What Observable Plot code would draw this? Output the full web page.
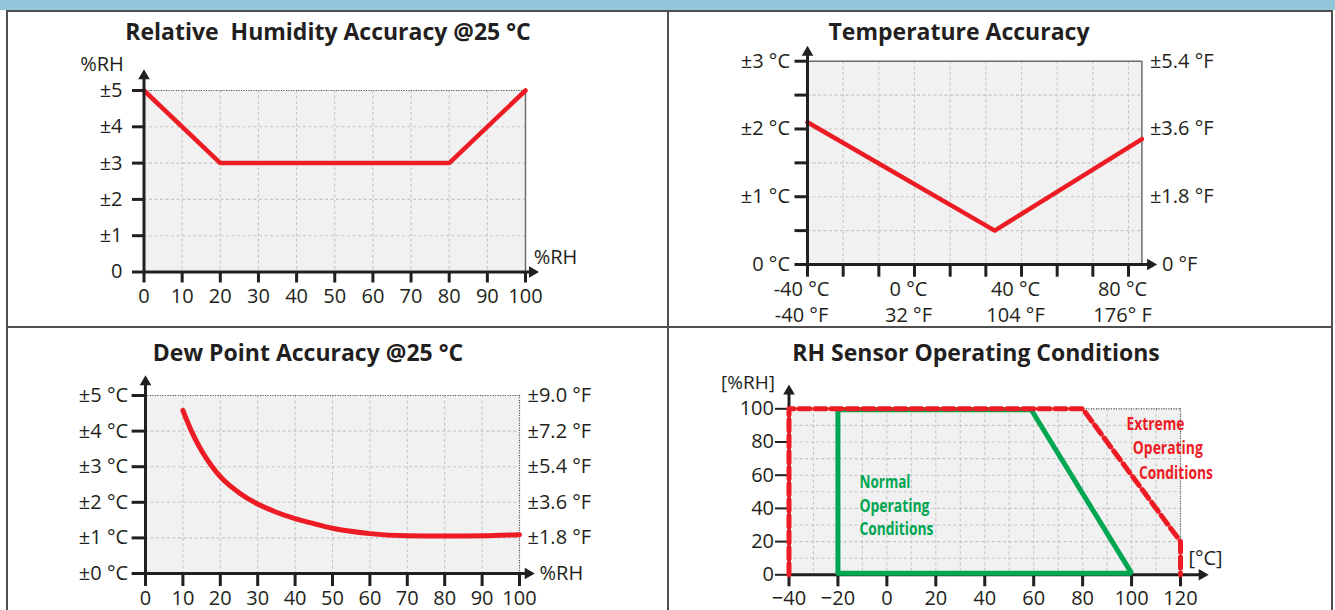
<!DOCTYPE html>
<html><head><meta charset="utf-8">
<script src="https://cdn.jsdelivr.net/npm/d3@7"></script>
<script src="https://cdn.jsdelivr.net/npm/@observablehq/plot@0.6"></script>
<style>
body{margin:0;background:#fff;}
#root{position:relative;width:1335px;height:610px;overflow:hidden;background:#fff;}
.band{position:absolute;left:0;top:0;width:1335px;height:10px;background:#93c6da;}
.ln{position:absolute;background:#4f4f4f;}
.title{position:absolute;font-family:'Open Sans',sans-serif;font-weight:700;font-size:23px;line-height:23px;color:#231f20;white-space:nowrap;transform:translateX(-50%);}
.panel{position:absolute;}
.panel svg{overflow:visible;}
</style></head><body>
<div id="root">
  <div class="band"></div>
  <div class="ln" style="left:6px;top:10px;width:1327px;height:2px"></div>
  <div class="ln" style="left:6px;top:10px;width:2px;height:600px"></div>
  <div class="ln" style="left:1331px;top:10px;width:2px;height:600px"></div>
  <div class="ln" style="left:667px;top:10px;width:2px;height:600px"></div>
  <div class="ln" style="left:6px;top:326px;width:1327px;height:2px"></div>
  <div class="title" style="left:328px;top:20px">Relative&nbsp; Humidity Accuracy @25 °C</div>
  <div class="title" style="left:959px;top:20px">Temperature Accuracy</div>
  <div class="title" style="left:308px;top:340.5px">Dew Point Accuracy @25 °C</div>
  <div class="title" style="left:976px;top:340.5px">RH Sensor Operating Conditions</div>
  <div class="panel" id="p1" style="left:0px;top:0px"></div>
  <div class="panel" id="p2" style="left:668px;top:0px"></div>
  <div class="panel" id="p3" style="left:0px;top:327px"></div>
  <div class="panel" id="p4" style="left:668px;top:327px"></div>
</div>
<script>
const INK = "#231f20", RED = "#ed1c24", GREEN = "#00a651", GRID = "#c6c6c6", FILL = "#f1f1f1", EDGE = "#6d6d6d";
const FONT = "'Open Sans', sans-serif";

// ---- Panel 1: Relative Humidity Accuracy
const rhAccX = [0, 20, 80, 100];
const rhAccY = [5, 3, 3, 5];
const rhXTicks = [0, 10, 20, 30, 40, 50, 60, 70, 80, 90, 100];
const rhYTicks = [0, 1, 2, 3, 4, 5];
const rhYLabels = ["0", "±1", "±2", "±3", "±4", "±5"];

// ---- Panel 2: Temperature Accuracy
const tempX = [-40, 30, 85];
const tempY = [2.1, 0.5, 1.85];
const tempTicksF = [-40, -16, 8, 32, 56, 80, 104, 128, 152, 176];
const tempYTicks = [0, 0.5, 1, 1.5, 2, 2.5, 3];
const tempYLabelVals = [0, 1, 2, 3];
const tempYLabelsC = ["0 °C", "±1 °C", "±2 °C", "±3 °C"];
const tempYLabelsF = ["0 °F", "±1.8 °F", "±3.6 °F", "±5.4 °F"];
const tempXLabelVals = [-40, 0, 40, 80];
const tempXLabelsC = ["-40 °C", "0 °C", "40 °C", "80 °C"];
const tempXLabelsF = ["-40 °F", "32 °F", "104 °F", "176° F"];

// ---- Panel 3: Dew Point Accuracy
const dewX = [10, 12.5, 15, 17.5, 20, 25, 30, 35, 40, 45, 50, 60, 70, 80, 90, 100];
const dewY = [4.58, 3.95, 3.45, 3.05, 2.72, 2.27, 1.95, 1.72, 1.54, 1.40, 1.27, 1.12, 1.06, 1.05, 1.06, 1.09];
const dewYTicks = [0, 1, 2, 3, 4, 5];
const dewYLabelsC = ["±0 °C", "±1 °C", "±2 °C", "±3 °C", "±4 °C", "±5 °C"];
const dewYLabelVals = [1, 2, 3, 4, 5];
const dewYLabelsF = ["±1.8 °F", "±3.6 °F", "±5.4 °F", "±7.2 °F", "±9.0 °F"];

// ---- Panel 4: RH Sensor Operating Conditions
const normalX = [-20, -20, 59, 100, -20];
const normalY = [1, 99.4, 99.4, 1, 1];
const extremeX = [-40, -40, 80, 120, 120];
const extremeY = [0, 100, 100, 20, 0];
const opXTicks = [-40, -20, 0, 20, 40, 60, 80, 100, 120];
const opXGrid = [-40, -30, -20, -10, 0, 10, 20, 30, 40, 50, 60, 70, 80, 90, 100, 110, 120];
const opYTicks = [0, 20, 40, 60, 80, 100];
const opYGrid = [0, 10, 20, 30, 40, 50, 60, 70, 80, 90, 100];
const normalText = ["Normal", "Operating", "Conditions"];
const normalTextX = [-11.2, -11.2, -11.2];
const normalTextY = [55.8, 41.1, 27.1];
const normalTextW = [51, 70, 74];
const extremeText = ["Extreme", "Operating", "Conditions"];
const extremeTextX = [97.9, 100.5, 103.0];
const extremeTextY = [90.5, 75.9, 61.2];
const extremeTextW = [58, 70, 74];

const baseStyle = {fontFamily: FONT, fontSize: "20px", color: INK, background: "transparent", overflow: "visible"};
const gridOpts = {stroke: GRID, strokeOpacity: 1, strokeWidth: 1.1, strokeDasharray: "3,2.5"};
const pts = (xs, ys) => xs.map((x, i) => ({x, y: ys[i]}));
const lbl = (vals, labels) => d => labels[vals.indexOf(d)] ?? "";
const arrowUp = (x, y) => Plot.dot([{x, y}], {x: "x", y: "y", symbol: "triangle", r: 4.3, fill: INK, stroke: null});
const arrowRight = (x, y) => Plot.dot([{x, y}], {x: "x", y: "y", symbol: "triangle", r: 4.3, fill: INK, stroke: null, rotate: 90});

// Panel 1
document.getElementById("p1").append(Plot.plot({
  width: 668, height: 327, marginLeft: 143.5, marginRight: 143, marginTop: 90, marginBottom: 55.5,
  x: {domain: [0, 100]}, y: {domain: [0, 5]}, style: baseStyle,
  marks: [
    Plot.frame({fill: FILL, stroke: null}),
    Plot.gridX(rhXTicks, gridOpts),
    Plot.gridY(rhYTicks, gridOpts),
    Plot.ruleY([5], {stroke: "#555", strokeWidth: 1.2, strokeDasharray: "1,1.5"}),
    Plot.ruleX([100], {stroke: EDGE, strokeWidth: 1.5}),
    Plot.line(pts(rhAccX, rhAccY), {x: "x", y: "y", stroke: RED, strokeWidth: 4.5, strokeLinejoin: "miter"}),
    Plot.axisX(rhXTicks, {tickSize: 11, tickPadding: 6, strokeWidth: 3, label: null, fontSize: 20}),
    Plot.axisY(rhYTicks, {tickSize: 11.5, tickPadding: 10, strokeWidth: 3, label: null, tickFormat: lbl(rhYTicks, rhYLabels), fontSize: 20}),
    Plot.ruleY([0], {x1: 0, x2: 101.8, stroke: INK, strokeWidth: 3}),
    Plot.ruleX([0], {y1: 0, y2: 5.4, stroke: INK, strokeWidth: 3}),
    arrowUp(0, 5.4), arrowRight(101.8, 0),
    Plot.text(["%RH"], {x: 0, y: 5.4, dx: -42, dy: -11, text: d => d, fontSize: 20}),
    Plot.text(["%RH"], {x: 100, y: 0, dx: 30, dy: -14, text: d => d, fontSize: 20})
  ]
}));

// Panel 2
const tempTicksC = tempTicksF.map(f => (f - 32) * 5 / 9);
document.getElementById("p2").append(Plot.plot({
  width: 667, height: 327, marginLeft: 139, marginRight: 193.6, marginTop: 60.7, marginBottom: 63,
  x: {domain: [-40, 85]}, y: {domain: [0, 3]}, style: baseStyle,
  marks: [
    Plot.frame({fill: FILL, stroke: null}),
    Plot.gridX(tempTicksC, gridOpts),
    Plot.gridY(tempYTicks, gridOpts),
    Plot.ruleY([3], {stroke: EDGE, strokeWidth: 1.5}),
    Plot.ruleX([85], {stroke: EDGE, strokeWidth: 1.5}),
    Plot.line(pts(tempX, tempY), {x: "x", y: "y", stroke: RED, strokeWidth: 4.5}),
    Plot.axisX(tempTicksC, {tickSize: 12.7, strokeWidth: 3, label: null, text: null}),
    Plot.axisY(tempYTicks, {tickSize: 12.5, tickPadding: 5, strokeWidth: 3, label: null, tickFormat: lbl(tempYLabelVals, tempYLabelsC), fontSize: 20}),
    Plot.ruleY([0], {x1: -40, x2: 88.2, stroke: INK, strokeWidth: 3}),
    Plot.ruleX([-40], {y1: 0, y2: 3.13, stroke: INK, strokeWidth: 3}),
    arrowUp(-40, 3.13), arrowRight(88.2, 0),
    Plot.text(tempXLabelVals, {x: d => d, y: 0, dx: -6, dy: 13, lineAnchor: "top", lineHeight: 1.3,
      text: (d, i) => tempXLabelsC[i] + "\n" + tempXLabelsF[i], fontSize: 20}),
    Plot.text(tempYLabelVals.slice(1), {x: 85, y: d => d, dx: 8, textAnchor: "start",
      text: (d, i) => tempYLabelsF[i + 1], fontSize: 20}),
    Plot.text([0], {x: 85, y: 0, dx: 20, textAnchor: "start", text: () => tempYLabelsF[0], fontSize: 20})
  ]
}));

// Panel 3
document.getElementById("p3").append(Plot.plot({
  width: 668, height: 283, marginLeft: 145, marginRight: 149, marginTop: 68, marginBottom: 37,
  x: {domain: [0, 100]}, y: {domain: [0, 5]}, style: baseStyle,
  marks: [
    Plot.frame({fill: FILL, stroke: null}),
    Plot.gridX(rhXTicks, gridOpts),
    Plot.gridY(dewYTicks, gridOpts),
    Plot.ruleY([5], {stroke: "#555", strokeWidth: 1.2, strokeDasharray: "1,1.5"}),
    Plot.ruleX([100], {stroke: "#555", strokeWidth: 1.2, strokeDasharray: "1,1.5"}),
    Plot.line(pts(dewX, dewY), {x: "x", y: "y", stroke: RED, strokeWidth: 5, curve: "monotone-x"}),
    Plot.axisX(rhXTicks, {tickSize: 13, tickPadding: 4, strokeWidth: 3, label: null, fontSize: 20}),
    Plot.axisY(dewYTicks, {tickSize: 13.4, tickPadding: 4, strokeWidth: 3, label: null, tickFormat: lbl(dewYTicks, dewYLabelsC), fontSize: 20}),
    Plot.ruleY([0], {x1: 0, x2: 102.3, stroke: INK, strokeWidth: 3}),
    Plot.ruleX([0], {y1: 0, y2: 5.38, stroke: INK, strokeWidth: 3}),
    arrowUp(0, 5.38), arrowRight(102.3, 0),
    Plot.text(dewYLabelVals, {x: 100, y: d => d, dx: 8, textAnchor: "start", text: (d, i) => dewYLabelsF[i], fontSize: 20}),
    Plot.text(["%RH"], {x: 100, y: 0, dx: 20, textAnchor: "start", text: d => d, fontSize: 20})
  ]
}));

// Panel 4
const p4 = Plot.plot({
  width: 667, height: 283, marginLeft: 120.5, marginRight: 155, marginTop: 81.3, marginBottom: 35.7,
  x: {domain: [-40, 120]}, y: {domain: [0, 100]}, style: baseStyle,
  marks: [
    Plot.frame({fill: FILL, stroke: null}),
    Plot.gridX(opXGrid, gridOpts),
    Plot.gridY(opYGrid, gridOpts),
    Plot.ruleY([100], {stroke: "#555", strokeWidth: 1.2, strokeDasharray: "1,1.5"}),
    Plot.ruleX([120], {stroke: "#555", strokeWidth: 1.2, strokeDasharray: "1,1.5"}),
    Plot.axisX(opXTicks, {tickSize: 12, tickPadding: 4, strokeWidth: 3, label: null, fontSize: 20}),
    Plot.axisY(opYTicks, {tickSize: 13.5, tickPadding: 1.5, strokeWidth: 2, label: null, fontSize: 20}),
    Plot.ruleY([0], {x1: -40, x2: 128.8, stroke: INK, strokeWidth: 3}),
    Plot.ruleX([-40], {y1: 0, y2: 110.6, stroke: INK, strokeWidth: 3}),
    arrowUp(-40, 110.6), arrowRight(128.8, 0),
    Plot.line(pts(normalX, normalY), {x: "x", y: "y", stroke: GREEN, strokeWidth: 5, strokeLinejoin: "miter"}),
    Plot.line(pts(extremeX, extremeY), {x: "x", y: "y", stroke: RED, strokeWidth: 5, strokeDasharray: "11,5"}),
    Plot.text(normalText, {x: (d, i) => normalTextX[i], y: (d, i) => normalTextY[i], text: d => d, textAnchor: "start",
      fill: GREEN, fontWeight: "bold", fontSize: 17.5}),
    Plot.text(extremeText, {x: (d, i) => extremeTextX[i], y: (d, i) => extremeTextY[i], text: d => d, textAnchor: "start",
      fill: RED, fontWeight: "bold", fontSize: 17.5}),
    Plot.text(["[%RH]"], {x: -40, y: 110.6, dx: -41, dy: -8, text: d => d, fontSize: 19}),
    Plot.text(["[°C]"], {x: 120, y: 0, dx: 25, dy: -16, text: d => d, fontSize: 20})
  ]
});
// condense the annotation labels to the reference widths
p4.querySelectorAll("text").forEach(t => {
  const g = t.closest("g");
  const fill = (g && g.getAttribute("fill")) || t.getAttribute("fill");
  let idx = -1, widths = null;
  if (fill === GREEN) { idx = normalText.indexOf(t.textContent); widths = normalTextW; }
  else if (fill === RED) { idx = extremeText.indexOf(t.textContent); widths = extremeTextW; }
  if (idx >= 0) {
    t.setAttribute("textLength", widths[idx]);
    t.setAttribute("lengthAdjust", "spacingAndGlyphs");
  }
});
document.getElementById("p4").append(p4);
</script>
</body></html>
